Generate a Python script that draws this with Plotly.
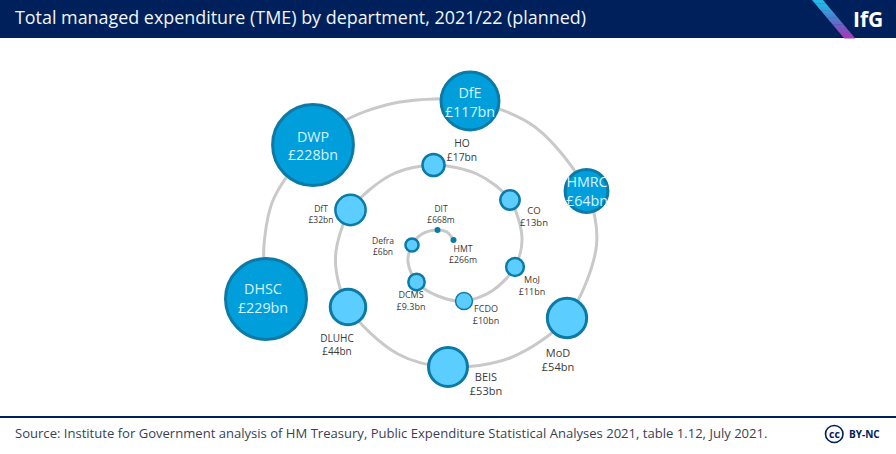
import plotly.graph_objects as go

# Departments in spiral order, with planned TME in £bn
departments = ["DHSC", "DWP", "DfE", "HMRC", "MoD", "BEIS", "DLUHC", "DfT", "HO", "CO",
               "MoJ", "FCDO", "DCMS", "Defra", "DIT", "HMT"]
tme_bn = [229, 228, 117, 64, 54, 53, 44, 32, 17, 13, 11, 10, 9.3, 6, 0.668, 0.266]
value_labels = ["£229bn", "£228bn", "£117bn", "£64bn", "£54bn", "£53bn", "£44bn", "£32bn",
                "£17bn", "£13bn", "£11bn", "£10bn", "£9.3bn", "£6bn", "£668m", "£266m"]

# Layout of the spiral on a 896 x 454 canvas
bubble_x = [266, 313, 470, 586.5, 567, 448, 348, 350.5, 433.5, 510, 515, 464, 416.5, 412, 437.5, 453.5]
bubble_y = [299, 145, 101, 191, 318, 367, 307, 210, 165, 200, 267, 301, 282, 245, 230, 240]
label_x = [263, 313, 470, 587, 558, 486, 337, 321, 462, 534, 532, 486, 411, 383, 441, 463]
label_y = [300, 147.5, 104, 193, 361, 385, 346, 215.5, 151.5, 217.5, 287, 316, 302, 247, 215, 255.5]
label_size = [14.3, 14.3, 14.3, 14.3, 11, 11, 10, 8.5, 10.3, 9.5, 9, 9, 9, 8.5, 8.5, 8.7]
label_colour = ["#d9f3ff"] * 4 + ["#3a3a3a"] * 12

# Path of the spiral thread from the outer end to the centre
thread_x = [266, 264, 274, 313, 348, 400, 470, 535, 586.5, 596.5, 567, 510, 448, 398, 348,
            335.5, 350.5, 391, 433.5, 477, 510, 522, 515, 492, 464, 438, 416.5, 408, 412,
            422, 437.5, 447, 453.5]
thread_y = [299, 245, 198, 145, 119, 102, 101, 127, 191, 245, 318, 358, 367, 354, 307,
            258, 210, 175, 165, 174, 200, 238, 267, 291, 301, 296, 282, 262, 245,
            234, 230, 232, 240]

NAVY = "#00205b"
DARK_FILL = "#009fdb"
LIGHT_FILL = "#5bcdfe"
OUTLINE = "#0b7aa6"

fills = [DARK_FILL if v >= 60 else LIGHT_FILL for v in tme_bn]
fills[-2:] = [OUTLINE, OUTLINE]
widths = [3 if v >= 40 else 2.5 if v > 1 else 0 for v in tme_bn]
widths[departments.index("FCDO")] = 1.5

fig = go.Figure()

# Spiral thread joining the departments
fig.add_trace(go.Scatter(
    x=thread_x, y=thread_y, mode="lines",
    line=dict(color="#c9c9c9", width=3, shape="spline", smoothing=0.9),
    hoverinfo="skip",
))

# Bubbles, area proportional to spending
fig.add_trace(go.Scatter(
    x=bubble_x, y=bubble_y, mode="markers",
    marker=dict(size=tme_bn, sizemode="area", sizeref=0.0698, sizemin=3,
                color=fills, opacity=1, line=dict(color=OUTLINE, width=widths)),
    text=departments, hoverinfo="text",
))

# Department and value labels
fig.add_trace(go.Scatter(
    x=label_x, y=label_y, mode="text",
    text=[f"{d}<br>{v}" for d, v in zip(departments, value_labels)],
    textposition="middle center",
    textfont=dict(family="Open Sans", size=label_size, color=label_colour),
    hoverinfo="skip",
))

# Header band, footer rule and the gradient stripe of the logo
shapes = [
    dict(type="rect", x0=0, x1=896, y0=0, y1=38, fillcolor=NAVY, line_width=0, layer="below"),
    dict(type="line", x0=0, x1=896, y0=417, y1=417, line=dict(color=NAVY, width=2)),
    dict(type="circle", x0=825.5, x1=843, y0=425.5, y1=442.5, line=dict(color=NAVY, width=1.6)),
]
stripe_colours = ["#27b8e8", "#2bafe4", "#32a3df", "#3a96d8", "#4488d2", "#507bcc",
                  "#5f6ec7", "#705fc2", "#8052bd", "#9048b9", "#a040b6"]
step = 38 / len(stripe_colours)
for i, colour in enumerate(stripe_colours):
    y0, y1 = i * step, (i + 1) * step + 0.4
    fig.add_shape(type="path", fillcolor=colour, line_width=0,
                  path=(f"M {812 + y0 * 0.84} {y0} L {823 + y0 * 0.84} {y0} "
                        f"L {823 + y1 * 0.84} {y1} L {812 + y1 * 0.84} {y1} Z"))

annotations = [
    dict(x=14, y=17, text="Total managed expenditure (TME) by department, 2021/22 (planned)",
         xanchor="left", font=dict(family="Open Sans", size=17.9, color="#f2f5fa")),
    dict(x=867.5, y=18.5, text="<b>IfG</b>", font=dict(family="Open Sans", size=21, color="white")),
    dict(x=14, y=433, text=("Source: Institute for Government analysis of HM Treasury, "
                            "Public Expenditure Statistical Analyses 2021, table 1.12, July 2021."),
         xanchor="left", font=dict(family="Open Sans", size=13.07, color="#3a3f52")),
    dict(x=834.3, y=433.5, text="<b>cc</b>", font=dict(family="Open Sans", size=10.5, color=NAVY)),
    dict(x=864.5, y=434, text="<b>BY-NC</b>", font=dict(family="Open Sans", size=10, color=NAVY)),
]
for a in annotations:
    a.update(xref="x", yref="y", showarrow=False, yanchor="middle", borderpad=0)

fig.update_layout(
    width=896, height=454, margin=dict(l=0, r=0, t=0, b=0),
    paper_bgcolor="white", plot_bgcolor="white", showlegend=False,
    xaxis=dict(range=[0, 896], visible=False, fixedrange=True),
    yaxis=dict(range=[454, 0], visible=False, fixedrange=True),
    annotations=annotations,
)
for s in shapes:
    fig.add_shape(**s)

fig.write_html("out.html", config={"displayModeBar": False})
